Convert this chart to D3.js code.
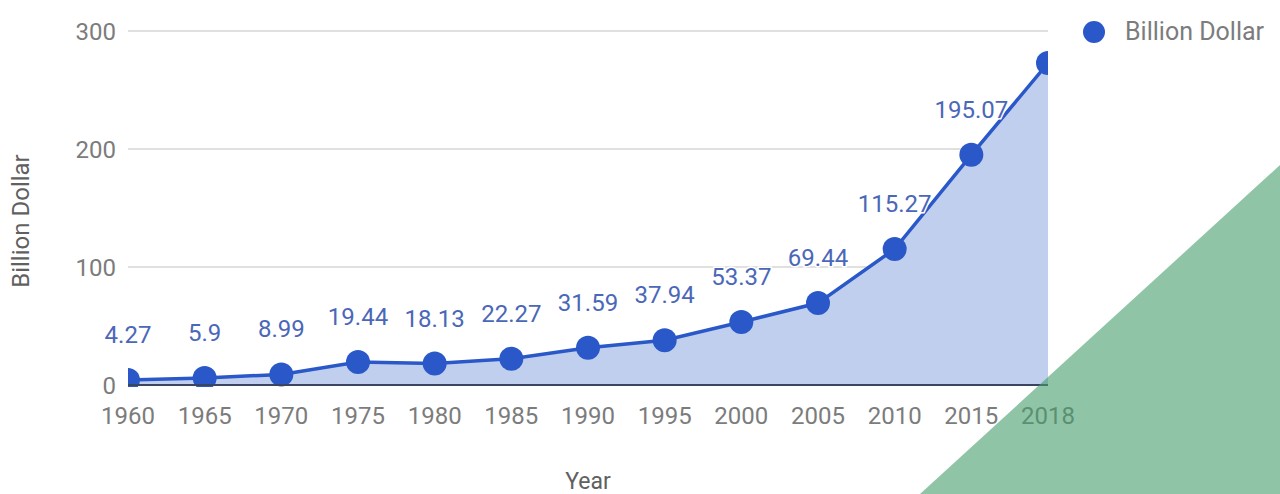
<!DOCTYPE html>
<html>
<head>
<meta charset="utf-8">
<script src="https://cdn.jsdelivr.net/npm/d3@7"></script>
<style>
  body { margin: 0; background: #fff; }
  svg { display: block; font-family: Roboto, "Noto Sans", sans-serif; }
</style>
</head>
<body>
<svg id="chart" width="1280" height="494"></svg>
<script>
// chart data
var years = ["1960", "1965", "1970", "1975", "1980", "1985", "1990", "1995", "2000", "2005", "2010", "2015", "2018"];
var values = [4.27, 5.9, 8.99, 19.44, 18.13, 22.27, 31.59, 37.94, 53.37, 69.44, 115.27, 195.07, 272.8];
var yTicks = [0, 100, 200, 300];
var seriesName = "Billion Dollar";

var svg = d3.select("#chart");
var plotLeft = 128, plotRight = 1048, plotTop = 31, plotBottom = 385;

var x = d3.scalePoint().domain(years).range([plotLeft, plotRight]);
var y = d3.scaleLinear().domain([0, 300]).range([plotBottom, plotTop]);

// clip so the end markers are cut at the plot edge like the original
svg.append("clipPath").attr("id", "plotClip")
  .append("rect")
  .attr("x", plotLeft).attr("y", 0)
  .attr("width", plotRight - plotLeft).attr("height", plotBottom + 2);

// gridlines
svg.append("g")
  .selectAll("line")
  .data(yTicks.filter(function (d) { return d > 0; }))
  .enter()
  .append("line")
  .attr("x1", plotLeft).attr("x2", plotRight)
  .attr("y1", function (d) { return y(d); })
  .attr("y2", function (d) { return y(d); })
  .attr("stroke", "#d6d6d6")
  .attr("stroke-width", 1.5);

// y tick labels
svg.append("g")
  .selectAll("text")
  .data(yTicks)
  .enter()
  .append("text")
  .attr("x", 116)
  .attr("y", function (d) { return y(d) + 1; })
  .attr("dy", "0.35em")
  .attr("text-anchor", "end")
  .attr("font-size", 24)
  .attr("fill", "#7c7c7c")
  .text(function (d) { return d; });

var data = years.map(function (d, i) { return { year: d, value: values[i] }; });

var plot = svg.append("g").attr("clip-path", "url(#plotClip)");

// area
plot.append("path")
  .datum(data)
  .attr("fill", "#c0cfee")
  .attr("d", d3.area()
    .x(function (d) { return x(d.year); })
    .y0(y(0))
    .y1(function (d) { return y(d.value); }));

// line
plot.append("path")
  .datum(data)
  .attr("fill", "none")
  .attr("stroke", "#2a58c8")
  .attr("stroke-width", 3.5)
  .attr("d", d3.line()
    .x(function (d) { return x(d.year); })
    .y(function (d) { return y(d.value); }));

// baseline
svg.append("line")
  .attr("x1", plotLeft).attr("x2", plotRight)
  .attr("y1", y(0)).attr("y2", y(0))
  .attr("stroke", "#3a4660")
  .attr("stroke-width", 2);

// points
plot.selectAll("circle")
  .data(data)
  .enter()
  .append("circle")
  .attr("cx", function (d) { return x(d.year); })
  .attr("cy", function (d) { return y(d.value); })
  .attr("r", 12)
  .attr("fill", "#2a58c8");

// data labels (last one falls outside the chart area and is not drawn)
svg.append("g")
  .selectAll("text")
  .data(data.slice(0, data.length - 1))
  .enter()
  .append("text")
  .attr("x", function (d) { return x(d.year); })
  .attr("y", function (d) { return y(d.value) - 37; })
  .attr("text-anchor", "middle")
  .attr("font-size", 24)
  .attr("fill", "#4a67b8")
  .attr("stroke", "#fff")
  .attr("stroke-width", 3)
  .attr("paint-order", "stroke")
  .text(function (d) { return d.value; });

// x tick labels
svg.append("g")
  .selectAll("text")
  .data(years)
  .enter()
  .append("text")
  .attr("x", function (d) { return x(d); })
  .attr("y", 424)
  .attr("text-anchor", "middle")
  .attr("font-size", 24)
  .attr("fill", "#7c7c7c")
  .text(function (d) { return d; });

// axis titles
svg.append("text")
  .attr("x", 588).attr("y", 489)
  .attr("text-anchor", "middle")
  .attr("font-size", 23)
  .attr("fill", "#606060")
  .text("Year");

svg.append("text")
  .attr("transform", "translate(29,221) rotate(-90)")
  .attr("text-anchor", "middle")
  .attr("font-size", 24)
  .attr("fill", "#606060")
  .text(seriesName);

// legend
svg.append("circle")
  .attr("cx", 1094).attr("cy", 32).attr("r", 11)
  .attr("fill", "#2a58c8");
svg.append("text")
  .attr("x", 1125).attr("y", 31)
  .attr("dy", "0.35em")
  .attr("font-size", 25)
  .attr("fill", "#7c7c7c")
  .text(seriesName);

// green corner overlay
svg.append("path")
  .attr("d", "M920,494 L1280,165 L1280,494 Z")
  .attr("fill", "rgb(68,157,107)")
  .attr("fill-opacity", 0.6);
</script>
</body>
</html>
